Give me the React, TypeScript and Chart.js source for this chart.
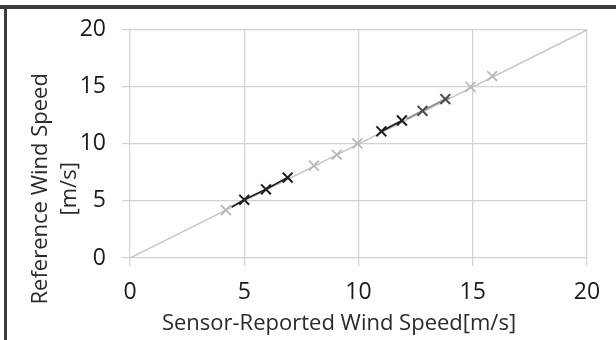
import { useEffect, useRef } from "react";
import { Chart, registerables } from "chart.js";

Chart.register(...registerables);

// ---- data ----
const tickValues = [0, 5, 10, 15, 20];
const xTitle = "Sensor-Reported Wind Speed[m/s]";
const yTitleLines = ["Reference Wind Speed", "[m/s]"];

const diagonalSensor = [0, 20];
const diagonalReference = [0, 20];

const graySensor = [4.2, 8.05, 9.05, 9.95, 14.9, 15.85];
const grayReference = [4.2, 8.1, 9.05, 10.05, 15.0, 15.95];

const blackASensor = [4.45, 5.0, 5.95, 6.9];
const blackAReference = [4.47, 5.1, 6.02, 7.05];
const blackAMarked = [false, true, true, true];

const blackBSensor = [11.0, 11.9];
const blackBReference = [11.1, 12.05];

const darkSensor = [12.1, 12.8, 13.8, 14.0];
const darkReference = [12.18, 12.9, 13.93, 14.04];
const darkMarked = [false, true, true, false];

const FONT = "'Open Sans', Lato, sans-serif";

const pts = (xs: number[], ys: number[]) => xs.map((x, i) => ({ x, y: ys[i] }));

const framePlugin = {
  id: "frameAndTitles",
  afterDraw(chart: any) {
    const ctx = chart.ctx as CanvasRenderingContext2D;
    const area = chart.chartArea;
    ctx.save();
    // scanned frame
    ctx.fillStyle = "#3a3a3a";
    ctx.fillRect(0, 5, chart.width, 4);
    ctx.fillRect(4, 5, 3, chart.height - 5);
    // x title
    ctx.fillStyle = "#2a2a2a";
    ctx.font = `22px ${FONT}`;
    ctx.textAlign = "center";
    ctx.textBaseline = "alphabetic";
    ctx.fillText(xTitle, area.left + 209, area.bottom + 72);
    // y title
    ctx.translate(0, area.top + 159);
    ctx.rotate(-Math.PI / 2);
    ctx.fillText(yTitleLines[0], 0, 47);
    ctx.fillText(yTitleLines[1], 0, 76);
    ctx.restore();
  },
};

export default function App() {
  const ref = useRef<HTMLCanvasElement | null>(null);
  useEffect(() => {
    document.body.style.margin = "0";
    if (!ref.current) return;
    const axisCommon = {
      type: "linear" as const,
      min: 0,
      max: 20,
      afterBuildTicks: (s: any) => {
        s.ticks = tickValues.map((v) => ({ value: v }));
      },
      grid: {
        color: "#d2d2d2",
        lineWidth: 1.2,
        tickLength: 8,
        drawTicks: true,
      },
      border: { display: false },
    };
    const chart = new Chart(ref.current, {
      type: "scatter",
      data: {
        datasets: [
          {
            label: "black A",
            data: pts(blackASensor, blackAReference),
            showLine: true,
            borderColor: "#1e1e1e",
            borderWidth: 1.8,
            pointStyle: "crossRot",
            pointRadius: blackAMarked.map((m) => (m ? 7 : 0)),
            pointBorderColor: "#1e1e1e",
            pointBorderWidth: 2,
            order: 1,
          },
          {
            label: "black B",
            data: pts(blackBSensor, blackBReference),
            showLine: true,
            borderColor: "#1e1e1e",
            borderWidth: 1.8,
            pointStyle: "crossRot",
            pointRadius: 7,
            pointBorderColor: "#1e1e1e",
            pointBorderWidth: 2,
            order: 1,
          },
          {
            label: "dark",
            data: pts(darkSensor, darkReference),
            showLine: true,
            borderColor: "#8a8a8a",
            borderWidth: 1.8,
            pointStyle: "crossRot",
            pointRadius: darkMarked.map((m) => (m ? 7 : 0)),
            pointBorderColor: "#4a4a4a",
            pointBorderWidth: 2,
            order: 2,
          },
          {
            label: "gray",
            data: pts(graySensor, grayReference),
            showLine: false,
            pointStyle: "crossRot",
            pointRadius: 7,
            pointBorderColor: "#b8b8b8",
            pointBorderWidth: 1.8,
            order: 3,
          },
          {
            label: "diagonal",
            data: pts(diagonalSensor, diagonalReference),
            showLine: true,
            borderColor: "#c4c4c4",
            borderWidth: 1.5,
            pointRadius: 0,
            order: 10,
          },
        ],
      },
      options: {
        responsive: false,
        animation: false,
        layout: { padding: { top: 25, right: 29, left: 0, bottom: 0 } },
        plugins: {
          legend: { display: false },
          tooltip: { enabled: false },
          title: { display: false },
        },
        scales: {
          x: {
            ...axisCommon,
            afterFit: (s: any) => {
              s.height = 82;
            },
            ticks: {
              font: { family: FONT, size: 23 },
              color: "#1a1a1a",
              padding: 13,
              maxRotation: 0,
            },
          },
          y: {
            ...axisCommon,
            afterFit: (s: any) => {
              s.width = 130;
            },
            ticks: {
              font: { family: FONT, size: 23 },
              color: "#1a1a1a",
              padding: 16,
            },
          },
        },
      },
      plugins: [framePlugin],
    } as any);
    return () => chart.destroy();
  }, []);
  return (
    <div style={{ width: 616, height: 340 }}>
      <canvas ref={ref} width={616} height={340} style={{ display: "block" }} />
    </div>
  );
}
